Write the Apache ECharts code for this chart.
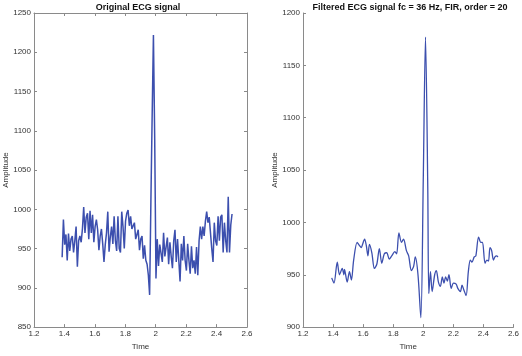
<!DOCTYPE html>
<html><head><meta charset="utf-8">
<script src="https://cdn.jsdelivr.net/npm/echarts@6/dist/echarts.min.js"></script>
<style>html,body{margin:0;padding:0;background:#fff}#c{width:522px;height:356px}</style>
</head><body><div id="c"></div>
<script>
// ---- data ----
const titles = ['Original ECG signal', 'Filtered ECG signal fc = 36 Hz, FIR, order = 20'];
const xTicks = [1.2, 1.4, 1.6, 1.8, 2, 2.2, 2.4, 2.6];
const origYTicks = [850, 900, 950, 1000, 1050, 1100, 1150, 1200, 1250];
const filtYTicks = [900, 950, 1000, 1050, 1100, 1150, 1200];
// original signal: starts at 1.385 s, one reading every 1/120 s
const origStart = 1.385;
const origStep = 1 / 120;
const origV = [939, 987, 955, 968, 935, 969, 947, 962, 966, 945, 960, 978, 927, 960, 966, 958, 975, 1003, 970, 990,
  995, 962, 998, 970, 993, 958, 978, 987, 974, 948, 966, 975, 956, 933, 955, 970, 997, 946, 965, 978,
  956, 991, 960, 947, 991, 950, 945, 997, 978, 950, 985, 995, 999, 979, 991, 975, 974, 983, 962, 968,
  974, 948, 962, 966, 937, 954, 935, 930, 916, 891, 1010, 1120, 1222, 1090, 912, 962, 928, 955, 953, 933,
  970, 940, 941, 964, 930, 958, 940, 925, 960, 974, 933, 962, 935, 908, 956, 935, 966, 935, 922, 956,
  935, 918, 953, 925, 935, 918, 952, 916, 960, 978, 962, 978, 966, 985, 997, 983, 990, 970, 950, 933,
  983, 960, 954, 991, 960, 990, 993, 945, 983, 960, 945, 1016, 945, 980, 994];
// filtered signal readings (time, amplitude)
const filtT = [1.391, 1.406, 1.428, 1.443, 1.461, 1.472, 1.476, 1.494, 1.509, 1.522, 1.537, 1.560, 1.575, 1.588, 1.596, 1.610,
  1.621, 1.632, 1.642, 1.658, 1.675, 1.691, 1.708, 1.724, 1.741, 1.757, 1.774, 1.790, 1.811, 1.823, 1.838, 1.855,
  1.869, 1.888, 1.903, 1.921, 1.936, 1.947, 1.965, 1.984, 2.000, 2.015, 2.030, 2.037, 2.048, 2.059, 2.076, 2.087,
  2.101, 2.114, 2.127, 2.138, 2.149, 2.160, 2.171, 2.186, 2.201, 2.219, 2.230, 2.247, 2.258, 2.269, 2.285, 2.300,
  2.313, 2.324, 2.339, 2.350, 2.368, 2.383, 2.394, 2.411, 2.423, 2.434, 2.444, 2.455, 2.467, 2.477, 2.488, 2.497];
const filtV = [947, 942, 962, 950, 956, 950, 955, 943, 953, 945, 964, 981, 978, 976, 979, 984,
  978, 968, 979, 971, 956, 960, 975, 961, 970, 971, 965, 968, 972, 970, 990, 981,
  984, 973, 968, 954, 958, 967, 950, 909, 1040, 1177, 1034, 932, 953, 934, 950, 954,
  943, 939, 948, 942, 948, 944, 950, 937, 942, 941, 937, 934, 940, 936, 930, 953,
  964, 962, 967, 968, 986, 981, 981, 961, 964, 963, 976, 973, 964, 967, 968, 967];

// ---- chart ----
const origData = origV.map((v, i) => [origStart + i * origStep, v]);
const filtData = filtT.map((t, i) => [t, filtV[i]]);
const FONT = 'Liberation Sans';
const axisGray = '#8a8a8a';
const lineColor = '#3c4fae';
function xAx(grid, mirror) {
  return {
    type: 'value', gridIndex: grid, min: xTicks[0], max: xTicks[xTicks.length - 1], interval: 0.2,
    position: mirror ? 'top' : 'bottom',
    name: mirror ? '' : 'Time', nameLocation: 'middle', nameGap: 15,
    nameTextStyle: { fontFamily: FONT, fontSize: 8, color: '#333' },
    axisLine: { show: true, onZero: false, lineStyle: { color: axisGray, width: 1 } },
    axisTick: { show: true, inside: true, length: 3, lineStyle: { color: axisGray } },
    axisLabel: { show: !mirror, fontFamily: FONT, fontSize: 8, color: '#333', margin: 3,
      formatter: v => String(Math.round(v * 10) / 10) },
    splitLine: { show: false }
  };
}
function yAx(grid, ticks, mirror) {
  return {
    type: 'value', gridIndex: grid, min: ticks[0], max: ticks[ticks.length - 1], interval: 50,
    position: mirror ? 'right' : 'left',
    name: mirror ? '' : 'Amplitude', nameLocation: 'middle', nameGap: 14, nameRotate: 90,
    nameTextStyle: { fontFamily: FONT, fontSize: 8, color: '#333' },
    axisLine: { show: true, onZero: false, lineStyle: { color: axisGray, width: 1 } },
    axisTick: { show: true, inside: true, length: 3, lineStyle: { color: axisGray } },
    axisLabel: { show: !mirror, fontFamily: FONT, fontSize: 8, color: '#333', margin: 3,
      formatter: v => String(v) },
    splitLine: { show: false }
  };
}
const chart = echarts.init(document.getElementById('c'), null, { renderer: 'canvas' });
chart.setOption({
  animation: false,
  backgroundColor: '#fff',
  title: [
    { text: titles[0], left: 133, top: -2, textAlign: 'center',
      textStyle: { fontFamily: FONT, fontSize: 9, fontWeight: 'bold', color: '#111' } },
    { text: titles[1], left: 405, top: -2, textAlign: 'center',
      textStyle: { fontFamily: FONT, fontSize: 9, fontWeight: 'bold', color: '#111' } }
  ],
  grid: [
    { left: 34, right: 275, top: 13, bottom: 23 },
    { left: 303, right: 6, top: 13, bottom: 23 }
  ],
  xAxis: [xAx(0, false), xAx(0, true), xAx(1, false)],
  yAxis: [yAx(0, origYTicks, false), yAx(0, origYTicks, true), yAx(1, filtYTicks, false)],
  series: [
    { type: 'line', xAxisIndex: 0, yAxisIndex: 0, data: origData, showSymbol: false,
      lineStyle: { color: lineColor, width: 1.5 }, itemStyle: { color: lineColor } },
    { type: 'line', xAxisIndex: 2, yAxisIndex: 2, data: filtData, showSymbol: false, smooth: 0.3,
      lineStyle: { color: lineColor, width: 1.3 }, itemStyle: { color: lineColor } }
  ]
});
</script></body></html>
